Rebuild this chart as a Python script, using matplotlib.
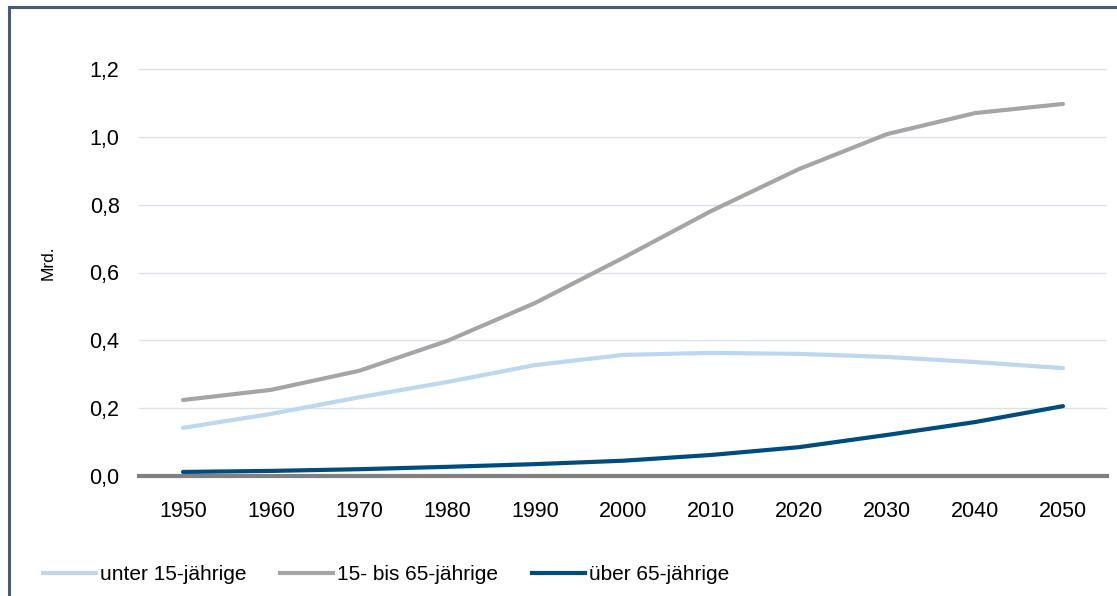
import numpy as np
import matplotlib.pyplot as plt
from matplotlib.lines import Line2D

plt.rcParams['font.family'] = ['Liberation Sans', 'DejaVu Sans']

years = [1950, 1960, 1970, 1980, 1990, 2000, 2010, 2020, 2030, 2040, 2050]
unter_15 = [0.142, 0.183, 0.232, 0.277, 0.327, 0.357, 0.363, 0.360, 0.351, 0.336, 0.318]
mitte_15_65 = [0.224, 0.254, 0.310, 0.398, 0.510, 0.643, 0.781, 0.905, 1.008, 1.070, 1.097]
ueber_65 = [0.012, 0.015, 0.020, 0.027, 0.035, 0.045, 0.062, 0.085, 0.121, 0.159, 0.206]

labels = ['unter 15-jährige', '15- bis 65-jährige', 'über 65-jährige']
colors = ['#BDD7EE', '#A5A5A5', '#004C7F']
yticks = [0.0, 0.2, 0.4, 0.6, 0.8, 1.0, 1.2]

fig = plt.figure(figsize=(11.17, 5.96), dpi=100)
ax = fig.add_axes([139 / 1117, 1 - 476 / 596, (1107 - 139) / 1117, (476 - 50) / 596])

x = np.arange(len(years))
for vals, c, lab in zip([unter_15, mitte_15_65, ueber_65], colors, labels):
    ax.plot(x, vals, color=c, lw=3, label=lab, solid_capstyle='round', zorder=3)

ax.set_xlim(-0.5, len(years) - 0.5)
ax.set_ylim(0, 1.2 * 426 / 407)
ax.set_xticks(x)
ax.set_xticklabels([str(y) for y in years], fontsize=15.5)
ax.set_yticks(yticks)
ax.set_yticklabels([f'{v:.1f}'.replace('.', ',') for v in yticks], fontsize=15.5)
ax.tick_params(length=0)
ax.tick_params(axis='y', pad=14)
ax.tick_params(axis='x', pad=18)

for v in yticks[1:]:
    ax.axhline(v, color='#D9E1EE', lw=1, zorder=1)
ax.axhline(0, color='#808080', lw=3, zorder=2, clip_on=False)

for s in ax.spines.values():
    s.set_visible(False)

ax.set_ylabel('Mrd.', fontsize=12.5, labelpad=24)

# legend drawn along the bottom
handles = [Line2D([0], [0], color=c, lw=3) for c in colors]
fig.legend(handles, labels, loc='center left', bbox_to_anchor=(43 / 1117, 1 - 575 / 596),
           ncol=3, frameon=False, fontsize=15, handlelength=2.55, handletextpad=0.2,
           columnspacing=1.6, borderpad=0, borderaxespad=0)

# outer frame (top and left edges)
fig.add_artist(Line2D([8.5 / 1117, 8.5 / 1117], [0, 1 - 6.5 / 596], color='#4A5A75', lw=2.2))
fig.add_artist(Line2D([8.5 / 1117, 1], [1 - 6.5 / 596, 1 - 6.5 / 596], color='#4A5A75', lw=2.2))

fig.savefig('out.png', dpi=100)
